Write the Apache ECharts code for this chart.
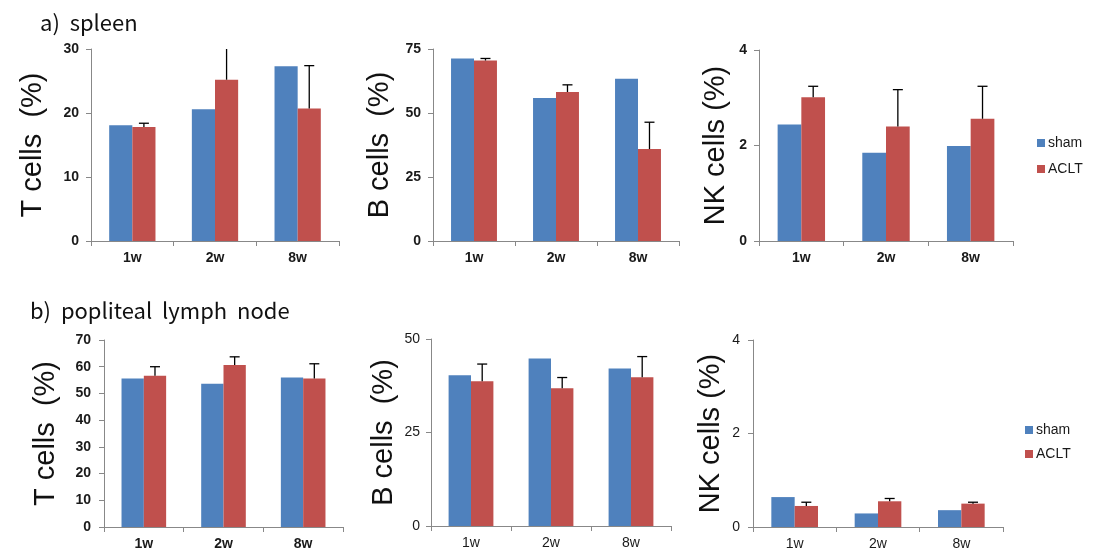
<!DOCTYPE html>
<html>
<head>
<meta charset="utf-8">
<script src="https://cdn.jsdelivr.net/npm/echarts@6/dist/echarts.min.js"></script>
<style>
html,body{margin:0;padding:0;background:#fff;}
#chart{width:1110px;height:555px;}
</style>
</head>
<body>
<div id="chart"></div>
<script>
// ---- data ----
const categories = ['1w', '2w', '8w'];
const seriesNames = ['sham', 'ACLT'];

const spleenT_sham = [18.1, 20.6, 27.3];
const spleenT_aclt = [17.8, 25.2, 20.7];
const spleenT_err  = [0.6, 5.2, 6.7];

const spleenB_sham = [71.3, 55.9, 63.4];
const spleenB_aclt = [70.5, 58.2, 35.9];
const spleenB_err  = [0.8, 2.8, 10.5];

const spleenNK_sham = [2.44, 1.85, 1.99];
const spleenNK_aclt = [3.01, 2.40, 2.56];
const spleenNK_err  = [0.23, 0.77, 0.68];

const plnT_sham = [55.6, 53.6, 56.0];
const plnT_aclt = [56.6, 60.6, 55.6];
const plnT_err  = [3.4, 3.1, 5.5];

const plnB_sham = [40.3, 44.8, 42.1];
const plnB_aclt = [38.7, 36.8, 39.8];
const plnB_err  = [4.6, 2.9, 5.5];

const plnNK_sham = [0.64, 0.29, 0.36];
const plnNK_aclt = [0.45, 0.55, 0.50];
const plnNK_err  = [0.08, 0.06, 0.03];

const yTitles = ['T cells  (%)', 'B cells  (%)', 'NK cells (%)', 'T cells  (%)', 'B cells  (%)', 'NK cells (%)'];
const yMax = [30, 75, 4, 70, 50, 4];
const yInterval = [10, 25, 2, 10, 25, 2];
const panelTitles = ['a)  spleen', 'b)  popliteal  lymph  node'];

// ---- layout / style ----
const BLUE = '#4F81BD', RED = '#C0504D', AXIS = '#888888';
const GAP = 0.44;
const panels = [
  {sham: spleenT_sham, aclt: spleenT_aclt, err: spleenT_err, grid: {left: 91, top: 49, width: 248, height: 192}, nameGap: 44, bold: true, labelMargin: 12},
  {sham: spleenB_sham, aclt: spleenB_aclt, err: spleenB_err, grid: {left: 433, top: 49, width: 246, height: 192}, nameGap: 39, bold: true, labelMargin: 12},
  {sham: spleenNK_sham, aclt: spleenNK_aclt, err: spleenNK_err, grid: {left: 759, top: 50, width: 254, height: 191}, nameGap: 29, bold: true, labelMargin: 12},
  {sham: plnT_sham, aclt: plnT_aclt, err: plnT_err, grid: {left: 104, top: 340, width: 239, height: 187}, nameGap: 44, bold: true, labelMargin: 13},
  {sham: plnB_sham, aclt: plnB_aclt, err: plnB_err, grid: {left: 431, top: 339, width: 240, height: 187}, nameGap: 33, bold: false, labelMargin: 11},
  {sham: plnNK_sham, aclt: plnNK_aclt, err: plnNK_err, grid: {left: 753, top: 340, width: 250, height: 187}, nameGap: 28, bold: false, labelMargin: 13}
];

function errRender(params, api) {
  const cat = api.value(0), v = api.value(1), e = api.value(2);
  const p0 = api.coord([cat, v]);
  const p1 = api.coord([cat, v + e]);
  const band = api.size([1, 0])[0];
  const bw = band * (1 - GAP) / 2;
  const x = p0[0] + bw / 2;
  const st = {stroke: '#000', lineWidth: 1.3};
  return {type: 'group', children: [
    {type: 'line', shape: {x1: x, y1: p0[1], x2: x, y2: p1[1]}, style: st},
    {type: 'line', shape: {x1: x - 5, y1: p1[1], x2: x + 5, y2: p1[1]}, style: st}
  ]};
}

const grids = [], xAxes = [], yAxes = [], series = [];
panels.forEach((p, i) => {
  grids.push(Object.assign({containLabel: false}, p.grid));
  const fw = p.bold ? 'bold' : 'normal';
  xAxes.push({
    type: 'category', gridIndex: i, data: categories,
    axisLine: {lineStyle: {color: AXIS, width: 1}},
    axisTick: {show: true, length: 5, lineStyle: {color: AXIS}},
    axisLabel: {fontFamily: 'Liberation Sans', fontSize: 14, fontWeight: fw, color: '#1a1a1a', margin: 10}
  });
  yAxes.push({
    type: 'value', gridIndex: i, min: 0, max: yMax[i], interval: yInterval[i],
    name: yTitles[i], nameLocation: 'middle', nameRotate: 90, nameGap: p.nameGap,
    nameTextStyle: {fontFamily: 'Liberation Sans', fontSize: 29, color: '#111'},
    axisLine: {show: true, lineStyle: {color: AXIS, width: 1}},
    axisTick: {show: true, length: 5, lineStyle: {color: AXIS}},
    splitLine: {show: false},
    axisLabel: {fontFamily: 'Liberation Sans', fontSize: 14, fontWeight: fw, color: '#1a1a1a', margin: p.labelMargin}
  });
  series.push({
    name: seriesNames[0], type: 'bar', xAxisIndex: i, yAxisIndex: i, data: p.sham,
    itemStyle: {color: BLUE}, barGap: '0%', barCategoryGap: (GAP * 100) + '%'
  });
  series.push({
    name: seriesNames[1], type: 'bar', xAxisIndex: i, yAxisIndex: i, data: p.aclt,
    itemStyle: {color: RED}, barGap: '0%', barCategoryGap: (GAP * 100) + '%'
  });
  series.push({
    type: 'custom', xAxisIndex: i, yAxisIndex: i, clip: true, z: 5,
    renderItem: errRender, encode: {x: 0, y: 1},
    data: p.aclt.map((v, k) => [k, v, p.err[k]])
  });
});

const legendBase = {
  orient: 'vertical', icon: 'rect', itemWidth: 8, itemHeight: 8, itemGap: 10, padding: 0,
  data: seriesNames, selectedMode: false,
  textStyle: {fontFamily: 'Liberation Sans', fontSize: 14, color: '#1a1a1a', lineHeight: 16, padding: [0, 0, 0, -2]}
};

const option = {
  animation: false,
  backgroundColor: '#fff',
  title: [
    {text: panelTitles[0], left: 35, top: 7, textStyle: {fontFamily: 'Noto Sans CJK KR', fontSize: 22, fontWeight: 'normal', color: '#111'}},
    {text: panelTitles[1], left: 25, top: 295, textStyle: {fontFamily: 'Noto Sans CJK KR', fontSize: 22, fontWeight: 'normal', color: '#111'}}
  ],
  legend: [
    Object.assign({}, legendBase, {left: 1037, top: 135}),
    Object.assign({}, legendBase, {left: 1025, top: 422, itemGap: 8})
  ],
  grid: grids,
  xAxis: xAxes,
  yAxis: yAxes,
  series: series
};

const chart = echarts.init(document.getElementById('chart'), null, {renderer: 'canvas'});
chart.setOption(option);
</script>
</body>
</html>
